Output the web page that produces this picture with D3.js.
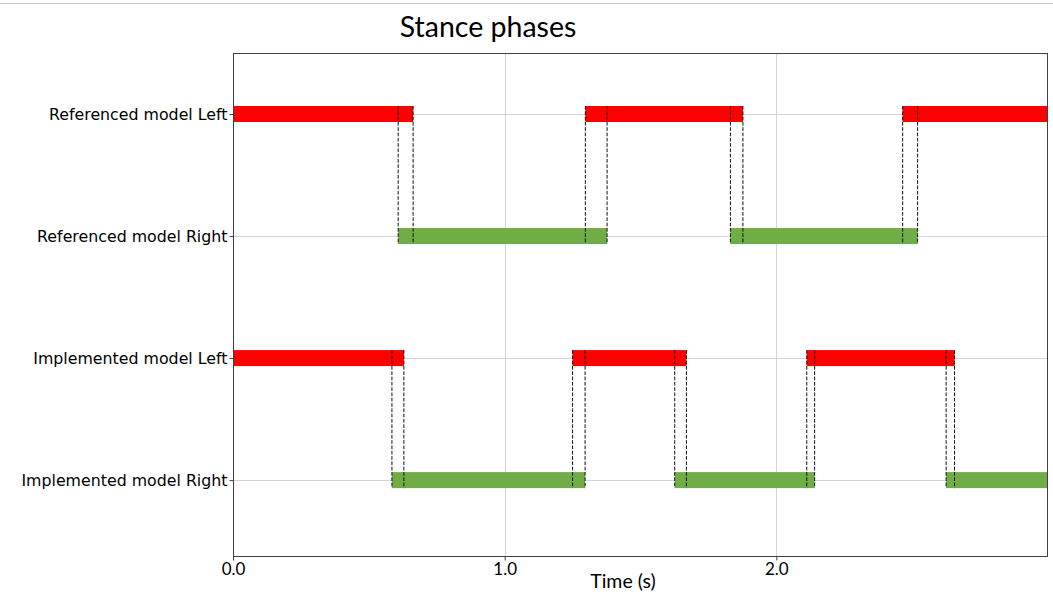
<!DOCTYPE html>
<html lang="en">
<head>
<meta charset="UTF-8">
<title>Stance phases</title>
<script src="https://cdn.jsdelivr.net/npm/d3@7"></script>
<style>
  body { margin: 0; background: #fff; }
  svg { display: block; }
</style>
</head>
<body>
<svg id="chart" width="1053" height="598"></svg>
<script>
// rows, top to bottom
var categories = ["Referenced model Left", "Referenced model Right",
                  "Implemented model Left", "Implemented model Right"];
// stance intervals [start, end] in seconds
var refLeft  = [[0, 0.663], [1.297, 1.877], [2.465, 3.0]];
var refRight = [[0.608, 1.377], [1.831, 2.520]];
var impLeft  = [[0, 0.629], [1.250, 1.669], [2.112, 2.656]];
var impRight = [[0.585, 1.296], [1.626, 2.141], [2.625, 3.0]];
var xTicks = [0, 1, 2];

var series = [
    {row: 0, color: "#ff0000", spans: refLeft},
    {row: 1, color: "#70ad47", spans: refRight},
    {row: 2, color: "#ff0000", spans: impLeft},
    {row: 3, color: "#70ad47", spans: impRight}
];

(function () {
    var svg = d3.select("#chart");
    // plot box (window.top is reserved, so keep these local)
    var pL = 233, pR = 1048, pT = 53, pB = 557;
    var barH = 16;

    var x = d3.scaleLinear().domain([0, 3]).range([pL, pR]);
    var y = d3.scaleLinear().domain([-0.5, 3.63]).range([pT, pB]);

    // thin rule at the very top of the page
    svg.append("line")
        .attr("x1", 0).attr("x2", 1053).attr("y1", 3.5).attr("y2", 3.5)
        .attr("stroke", "#c6c6c6").attr("stroke-width", 1);

    // grid
    var grid = svg.append("g");
    grid.selectAll("line.v").data(xTicks).enter().append("line")
        .attr("x1", function (d) { return Math.round(x(d)) + 0.5; })
        .attr("x2", function (d) { return Math.round(x(d)) + 0.5; })
        .attr("y1", pT).attr("y2", pB)
        .attr("stroke", "#d4d4d4").attr("stroke-width", 1);
    grid.selectAll("line.h").data(categories).enter().append("line")
        .attr("x1", pL).attr("x2", pR)
        .attr("y1", function (d, i) { return Math.round(y(i)) + 0.5; })
        .attr("y2", function (d, i) { return Math.round(y(i)) + 0.5; })
        .attr("stroke", "#d4d4d4").attr("stroke-width", 1);

    // bars
    series.forEach(function (s) {
        svg.append("g").selectAll("rect").data(s.spans).enter().append("rect")
            .attr("x", function (d) { return x(d[0]); })
            .attr("width", function (d) { return x(d[1]) - x(d[0]); })
            .attr("y", y(s.row) - barH / 2)
            .attr("height", barH)
            .attr("fill", s.color);
    });

    // dashed transition lines between left/right rows of each model
    function edges(spans) {
        var out = [];
        spans.forEach(function (d) {
            d.forEach(function (v) { if (v > 0 && v < 3) out.push(v); });
        });
        return out;
    }
    [[0, 1, refLeft, refRight], [2, 3, impLeft, impRight]].forEach(function (p) {
        var xs = edges(p[2]).concat(edges(p[3]));
        svg.append("g").selectAll("line").data(xs).enter().append("line")
            .attr("x1", function (d) { return x(d); })
            .attr("x2", function (d) { return x(d); })
            .attr("y1", y(p[0]) - barH / 2)
            .attr("y2", y(p[1]) + barH / 2)
            .attr("stroke", "#111").attr("stroke-width", 1)
            .attr("stroke-dasharray", "3.7,1.6");
    });

    // frame
    svg.append("rect")
        .attr("x", pL + 0.5).attr("y", pT + 0.5)
        .attr("width", pR - pL - 1).attr("height", pB - pT - 1)
        .attr("fill", "none").attr("stroke", "#404040").attr("stroke-width", 1);

    // axes
    var xAxis = svg.append("g")
        .attr("transform", "translate(0," + (pB - 0.5) + ")")
        .call(d3.axisBottom(x).tickValues(xTicks).tickFormat(d3.format(".1f")).tickSize(4).tickPadding(2));
    xAxis.select(".domain").remove();
    xAxis.selectAll("line").attr("stroke", "#404040");
    xAxis.selectAll("text").attr("font-family", "Lato, 'DejaVu Sans', sans-serif")
        .attr("font-size", "17px").attr("fill", "#000");

    var yAxis = svg.append("g")
        .attr("transform", "translate(" + (pL + 0.5) + ",0)")
        .call(d3.axisLeft(y).tickValues([0, 1, 2, 3])
            .tickFormat(function (d) { return categories[d]; }).tickSize(4).tickPadding(2));
    yAxis.select(".domain").remove();
    yAxis.selectAll("line").attr("stroke", "#404040");
    yAxis.selectAll("text").attr("font-family", "'DejaVu Sans', sans-serif")
        .attr("font-size", "15.8px").attr("fill", "#000");

    // titles
    svg.append("text")
        .attr("x", 488).attr("y", 37)
        .attr("text-anchor", "middle")
        .attr("font-family", "Lato, 'DejaVu Sans', sans-serif")
        .attr("font-size", "28.5px").attr("fill", "#000")
        .text("Stance phases");

    svg.append("text")
        .attr("x", 623).attr("y", 588)
        .attr("text-anchor", "middle")
        .attr("font-family", "Lato, 'DejaVu Sans', sans-serif")
        .attr("font-size", "19.5px").attr("fill", "#000")
        .text("Time (s)");
})();
</script>
</body>
</html>
